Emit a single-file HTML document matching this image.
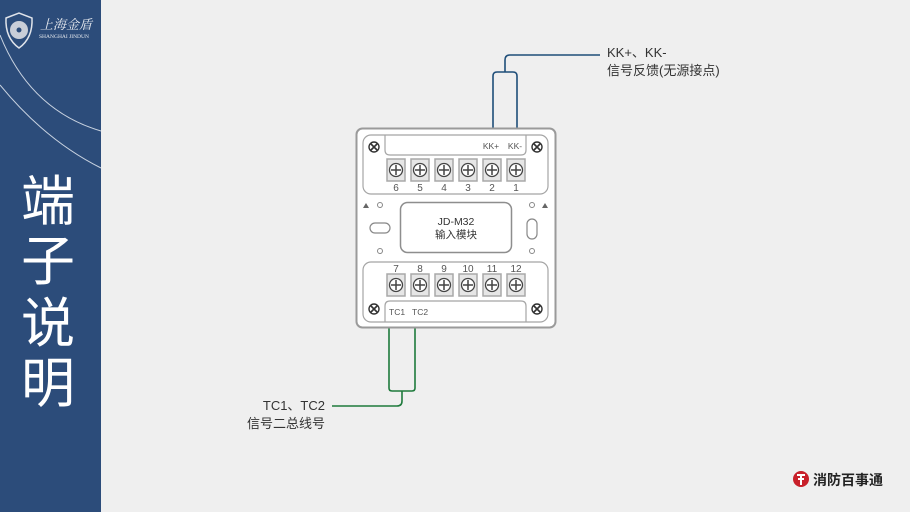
<!DOCTYPE html>
<html><head><meta charset="utf-8">
<style>
html,body{margin:0;padding:0;background:#efefef;}
svg{display:block;font-family:"Liberation Sans","Noto Sans CJK SC",sans-serif;}
</style></head>
<body>
<svg width="910" height="512" viewBox="0 0 910 512" xmlns="http://www.w3.org/2000/svg">
<defs>
<g id="t">
  <rect x="-9" y="-11" width="18" height="22" fill="#e6e6e6" stroke="#a8a8a8" stroke-width="1.5"/>
  <circle cx="0" cy="0" r="6.5" fill="#fff" stroke="#444" stroke-width="1.3"/>
  <path d="M-5 0H5M0 -5V5" stroke="#444" stroke-width="1.5"/>
</g>
<g id="s">
  <circle cx="0" cy="0" r="5" fill="#fff" stroke="#333" stroke-width="1.4"/>
  <path d="M-3 -3L3 3M3 -3L-3 3" stroke="#333" stroke-width="1.6"/>
</g>
</defs>
<rect width="910" height="512" fill="#efefef"/>
<!-- sidebar -->
<rect width="101" height="512" fill="#2c4c7a"/>
<path d="M0 35 Q30 110 101 131" fill="none" stroke="#c8d2e0" stroke-width="1"/>
<path d="M0 85 Q45 140 101 168" fill="none" stroke="#c8d2e0" stroke-width="1"/>
<path d="M6 18 L19 13 L32 18 Q33 38 19 48 Q5 38 6 18Z" fill="none" stroke="#dfe3ea" stroke-width="1.5"/>
<circle cx="19" cy="30" r="9" fill="#c9ced8"/>
<circle cx="19" cy="30" r="2.5" fill="#2c4c7a"/>
<text x="40" y="29" font-size="13" fill="#e8ebf0" font-family="'Noto Serif CJK SC',serif" font-style="italic">上海金盾</text>
<text x="39" y="38" font-size="5.5" fill="#e8ebf0" font-family="'Liberation Serif',serif">SHANGHAI  JINDUN</text>
<g font-size="54" fill="#fff" text-anchor="middle">
<text x="48" y="220">端</text>
<text x="48" y="280">子</text>
<text x="48" y="342">说</text>
<text x="48" y="402">明</text>
</g>
<!-- wires top -->
<path d="M493 131 V76 Q493 72 497 72 H513 Q517 72 517 76 V131" fill="none" stroke="#1f4e79" stroke-width="1.6"/>
<path d="M505 72 V60 Q505 55 510 55 H600" fill="none" stroke="#1f4e79" stroke-width="1.6"/>
<text x="607" y="57" font-size="13" fill="#333">KK+、KK-</text>
<text x="607" y="75" font-size="13" fill="#333">信号反馈(无源接点)</text>
<!-- wires bottom -->
<path d="M389 325 V388 Q389 391 392 391 H412 Q415 391 415 388 V325" fill="none" stroke="#1e7a3c" stroke-width="1.6"/>
<path d="M402 391 V401 Q402 406 397 406 H332" fill="none" stroke="#1e7a3c" stroke-width="1.6"/>
<text x="325" y="410" font-size="13" fill="#333" text-anchor="end">TC1、TC2</text>
<text x="325" y="428" font-size="13" fill="#333" text-anchor="end">信号二总线号</text>
<!-- module -->
<rect x="356.5" y="128.5" width="199" height="199" rx="6" fill="#fff" stroke="#9a9a9a" stroke-width="2"/>
<rect x="363" y="135" width="185" height="59" rx="8" fill="#fff" stroke="#a5a5a5" stroke-width="1.2"/>
<path d="M385 135 V150 Q385 155 390 155 H521 Q526 155 526 150 V135" fill="none" stroke="#a5a5a5" stroke-width="1.2"/>
<text x="491" y="149" font-size="8.5" fill="#555" text-anchor="middle">KK+</text>
<text x="515" y="149" font-size="8.5" fill="#555" text-anchor="middle">KK-</text>
<use href="#s" x="374" y="147"/><use href="#s" x="537" y="147"/>
<use href="#t" x="396" y="170"/><use href="#t" x="420" y="170"/><use href="#t" x="444" y="170"/>
<use href="#t" x="468" y="170"/><use href="#t" x="492" y="170"/><use href="#t" x="516" y="170"/>
<g font-size="10" fill="#555" text-anchor="middle">
<text x="396" y="191">6</text><text x="420" y="191">5</text><text x="444" y="191">4</text>
<text x="468" y="191">3</text><text x="492" y="191">2</text><text x="516" y="191">1</text>
</g>
<!-- middle -->
<path d="M363 208 l3 -5 l3 5z" fill="#666"/><path d="M542 208 l3 -5 l3 5z" fill="#666"/>
<circle cx="380" cy="205" r="2.5" fill="none" stroke="#888"/>
<circle cx="380" cy="251" r="2.5" fill="none" stroke="#888"/>
<circle cx="532" cy="205" r="2.5" fill="none" stroke="#888"/>
<circle cx="532" cy="251" r="2.5" fill="none" stroke="#888"/>
<rect x="370" y="223" width="20" height="10" rx="5" fill="none" stroke="#888" stroke-width="1.2"/>
<rect x="527" y="219" width="10" height="20" rx="5" fill="none" stroke="#888" stroke-width="1.2"/>
<rect x="400.5" y="202.5" width="111" height="50" rx="7" fill="#fff" stroke="#8e8e8e" stroke-width="1.5"/>
<text x="456" y="225" font-size="10.5" fill="#333" text-anchor="middle">JD-M32</text>
<text x="456" y="238" font-size="10.5" fill="#333" text-anchor="middle">输入模块</text>
<!-- lower -->
<rect x="363" y="262" width="185" height="60" rx="8" fill="#fff" stroke="#a5a5a5" stroke-width="1.2"/>
<path d="M385 322 V306 Q385 301 390 301 H521 Q526 301 526 306 V322" fill="none" stroke="#a5a5a5" stroke-width="1.2"/>
<g font-size="10" fill="#555" text-anchor="middle">
<text x="396" y="272">7</text><text x="420" y="272">8</text><text x="444" y="272">9</text>
<text x="468" y="272">10</text><text x="492" y="272">11</text><text x="516" y="272">12</text>
</g>
<use href="#t" x="396" y="285"/><use href="#t" x="420" y="285"/><use href="#t" x="444" y="285"/>
<use href="#t" x="468" y="285"/><use href="#t" x="492" y="285"/><use href="#t" x="516" y="285"/>
<use href="#s" x="374" y="309"/><use href="#s" x="537" y="309"/>
<text x="389" y="315" font-size="8.5" fill="#555">TC1</text>
<text x="412" y="315" font-size="8.5" fill="#555">TC2</text>
<!-- bottom-right logo -->
<circle cx="801" cy="479" r="8" fill="#c8202a"/>
<path d="M797 475 H805 M801 475 V485 M798 479 H804" stroke="#fff" stroke-width="2"/>
<text x="813" y="485" font-size="14" font-weight="bold" fill="#222">消防百事通</text>
</svg>
</body></html>
